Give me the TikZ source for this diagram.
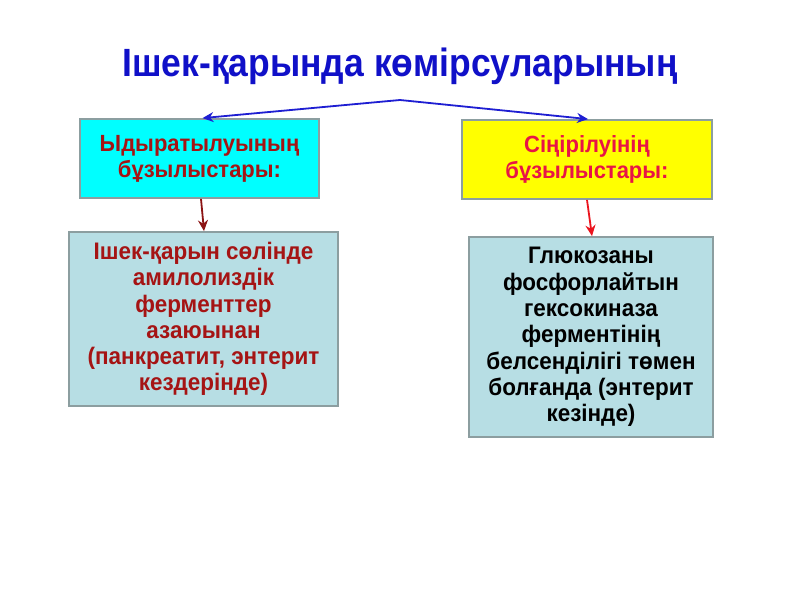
\documentclass[tikz,border=0pt]{standalone}
\usepackage{fontspec}
\setmainfont{Liberation Sans}[FakeStretch=0.94]
\newfontfamily\titlefont{Liberation Sans}[FakeStretch=0.9]
\usetikzlibrary{arrows.meta}
\definecolor{titleblue}{RGB}{16,16,200}
\definecolor{arrowblue}{RGB}{30,30,210}
\definecolor{darkred}{RGB}{165,20,20}
\definecolor{crimson}{RGB}{232,20,70}
\definecolor{boxcyan}{RGB}{0,255,255}
\definecolor{boxyellow}{RGB}{255,255,0}
\definecolor{boxlight}{RGB}{183,222,228}
\definecolor{boxborder}{RGB}{140,158,160}
\definecolor{arrowdred}{RGB}{140,20,20}
\definecolor{arrowred}{RGB}{235,20,30}
\tikzset{
  box/.style={draw=boxborder, line width=1.8pt, inner sep=0pt, align=center, font=\bfseries\fontsize{23.9}{26.3}\selectfont},
  topbox/.style={box, font=\bfseries\fontsize{23.4}{26}\selectfont},
  conn/.style={-{Stealth[length=11pt,width=10pt]}, line width=1.8pt},
}
\begin{document}
\begin{tikzpicture}[x=1pt,y=-1pt]
\useasboundingbox (0,0) rectangle (800,600);
\fill[white] (0,0) rectangle (800,600);
\node[text=titleblue, font=\titlefont\bfseries\fontsize{39.4}{44}\selectfont, anchor=base, inner sep=0pt] (title) at (400,76) {Ішек-қарында көмірсуларының};
\coordinate (apex) at (400,100);
\node[topbox, fill=boxcyan, text=darkred, minimum width=239pt, minimum height=79pt] (b1) at (199.5,158.5) {Ыдыратылуының\\бұзылыстары:};
\node[topbox, fill=boxyellow, text=crimson, minimum width=250pt, minimum height=79pt] (b2) at (587,159.5) {Сіңірілуінің\\бұзылыстары:};
\node[box, fill=boxlight, text=darkred, minimum width=269pt, minimum height=174pt] (b3) at (203.5,319) {Ішек-қарын сөлінде\\амилолиздік\\ферменттер\\азаюынан\\(панкреатит, энтерит\\кездерінде)};
\node[box, fill=boxlight, text=black, minimum width=244pt, minimum height=200pt] (b4) at (591,337) {Глюкозаны\\фосфорлайтын\\гексокиназа\\ферментінің\\белсенділігі төмен\\болғанда (энтерит\\кезінде)};
\draw[conn, arrowblue] (apex) -- ([xshift=3pt]b1.north);
\draw[conn, arrowblue] (apex) -- ([xshift=1pt]b2.north);
\draw[conn, arrowdred] ([xshift=1.5pt]b1.south) -- ([xshift=0.5pt]b3.north);
\draw[conn, arrowred] (b2.south) -- ([xshift=1pt]b4.north);
\end{tikzpicture}
\end{document}
